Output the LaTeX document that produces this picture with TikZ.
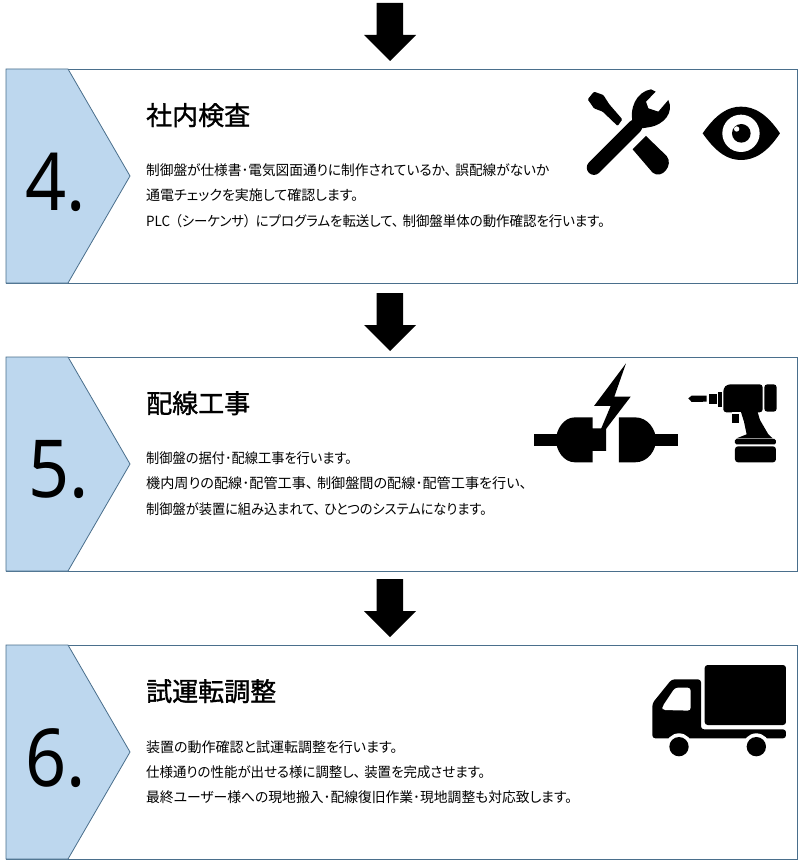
\documentclass[tikz,border=0pt]{standalone}
\usepackage{fontspec}
\usepackage{graphicx}
\setmainfont{Noto Sans}
\newfontfamily\jp[RawFeature=+palt]{Noto Sans CJK JP}
\newfontfamily\jpt[RawFeature=+palt,FakeBold=1.2]{Noto Sans CJK JP}
\definecolor{frameblue}{HTML}{4A6F8C}
\definecolor{panelblue}{HTML}{BDD7EE}
\tikzset{
  framebox/.style={draw=frameblue,fill=white,line width=0.8pt},
  pentabox/.style={draw=frameblue,fill=panelblue,line width=0.8pt},
  blk/.style={fill=black,draw=none},
  wht/.style={fill=white,draw=none},
  numlabel/.style={anchor=base west,inner sep=0pt,font=\fontsize{80}{80}\selectfont,text=black},
  titlelabel/.style={anchor=base west,inner sep=0pt,font=\jpt\fontsize{26}{26}\selectfont,text=black},
  bodylabel/.style={anchor=base west,inner sep=0pt,font=\jp\fontsize{14}{14}\selectfont,text=black},
}
\newcommand{\panelbox}[1]{%
  \path[framebox] (6,#1) rectangle (797,#1+214);
  \path[pentabox] (6,#1) -- (68,#1) -- (130,#1+107) -- (68,#1+214) -- (6,#1+214) -- cycle;
}
\newcommand{\blockarrow}[1]{%
  \path[blk] (376.5,#1) -- (403,#1) -- (403,#1+32) -- (416,#1+32) -- (390,#1+58) -- (364,#1+32) -- (376.5,#1+32) -- cycle;
}
\newcommand{\sq}[2]{\scalebox{#1}[1]{#2}}
\newcommand{\tenn}{、\hspace{4pt}}
\begin{document}
\begin{tikzpicture}[x=1pt,y=-1pt]
\useasboundingbox (0,0) rectangle (809,864);
\fill[white] (0,0) rectangle (809,864);
\blockarrow{3}\blockarrow{293}\blockarrow{579}
\panelbox{69}\panelbox{357}\panelbox{645}
\node[numlabel] (n4) at (25,210) {\sq{0.9}{4.}};
\node[numlabel] (n5) at (28,497) {\sq{0.9}{5.}};
\node[numlabel] (n6) at (25,786) {\sq{0.9}{6.}};
\node[titlelabel] (t4) at (146,125) {社内検査};
\node[titlelabel] (t5) at (146,413) {配線工事};
\node[titlelabel] (t6) at (146,701) {試運転調整};
\node[bodylabel] (b41) at (146,175) {\sq{0.976}{制御盤が仕様書･電気図面通りに制作されているか\tenn 誤配線がないか}};
\node[bodylabel] (b42) at (146,200) {通電チェックを実施して確認します。};
\node[bodylabel] (b43) at (146,226) {\sq{0.96}{PLC\hspace{5pt}（シーケンサ）\hspace{5pt}にプログラムを転送して\tenn 制御盤単体の動作確認を行います。}};
\node[bodylabel] (b51) at (146,463) {\sq{0.944}{制御盤の据付･配線工事を行います。}};
\node[bodylabel] (b52) at (146,488) {\sq{1.01}{機内周りの配線･配管工事\tenn 制御盤間の配線･配管工事を行い、}};
\node[bodylabel] (b53) at (146,514) {\sq{0.944}{制御盤が装置に組み込まれて\tenn ひとつのシステムになります。}};
\node[bodylabel] (b61) at (146,752) {装置の動作確認と試運転調整を行います。};
\node[bodylabel] (b62) at (146,777) {\sq{0.96}{仕様通りの性能が出せる様に調整し\tenn 装置を完成させます。}};
\node[bodylabel] (b63) at (146,802) {\sq{0.985}{最終ユーザー様への現地搬入･配線復旧作業･現地調整も対応致します。}};
% tools + eye
\begin{scope}[shift={(520,70)},x=0.3333pt,y=-0.3333pt]
 \path[blk,rounded corners=1pt] (203,88) -- (222,65) -- (250,75) -- (268,103) -- (307,148) -- (293,168) -- (248,125) -- (222,115) -- cycle;
 \path[blk] (378,198) -- (440,258) .. controls (462,285) and (425,330) .. (398,308) -- (338,238) -- cycle;
 \draw[line width=14.5pt,line cap=round,black] (222,293) -- (345,170);
 \path[blk] (393,58) .. controls (350,65) and (325,115) .. (340,165) -- (345,178) -- (385,172) .. controls (435,165) and (462,125) .. (445,90) -- (415,125) -- (385,115) -- (378,95) -- (407,65) -- cycle;
 \path[blk] (548,190) .. controls (590,130) and (625,110) .. (663,110) .. controls (702,110) and (740,130) .. (780,190) .. controls (740,250) and (702,270) .. (663,270) .. controls (625,270) and (590,250) .. (548,190) -- cycle;
 \path[wht] (663,190) circle[radius=56];
 \path[blk] (664,190) circle[radius=28];
 \path[wht] (650,177) circle[radius=8];
\end{scope}
% plug + drill
\begin{scope}[shift={(520,355)},x=0.3333pt,y=-0.3333pt]
 \path[blk] (42,238) rectangle (115,272);
 \path[blk] (218,187) -- (165,187) .. controls (130,187) and (108,225) .. (108,255) .. controls (108,285) and (130,322) .. (165,322) -- (218,322) -- (218,288) -- (258,288) -- (258,220) -- (218,220) -- cycle;
 \path[blk] (318,25) -- (222,153) -- (272,153) -- (243,222) -- (258,222) -- (332,125) -- (283,125) -- cycle;
 \path[blk] (297,187) -- (345,187) .. controls (385,187) and (408,225) .. (408,255) .. controls (408,285) and (385,322) .. (345,322) -- (297,322) -- cycle;
 \path[blk] (400,238) rectangle (474,272);
 % drill
 \path[blk] (505,130) -- (515,122) -- (560,122) -- (560,140) -- (515,141) -- cycle;
 \path[blk] (568,116) rectangle (590,148);
 \path[blk] (595,112) rectangle (606,155);
 \path[blk,rounded corners=3pt] (610,172) -- (610,100) -- (622,88) -- (728,88) -- (728,172) -- cycle;
 \path[blk] (662,168) -- (712,168) -- (720,195) -- (745,238) -- (758,250) -- (650,250) -- (680,238) -- (672,200) -- cycle;
 \path[blk,rounded corners=3pt] (733,88) -- (770,88) -- (770,170) -- (733,170) -- cycle;
 \path[wht] (637,172) rectangle (662,208);
 \path[blk] (637,178) rectangle (658,203);
 \path[blk,rounded corners=1.5pt] (645,268) -- (645,252) -- (768,252) -- (768,268) -- cycle;
 \path[blk,rounded corners=3pt] (645,274) -- (768,274) -- (768,322) -- (645,322) -- cycle;
\end{scope}
% truck
\begin{scope}[shift={(630,650)},x=0.3333pt,y=-0.3333pt]
 \path[blk,rounded corners=3pt] (224,45) rectangle (468,225);
 \path[blk,rounded corners=3pt] (67,160) -- (125,88) -- (213,88) -- (213,238) -- (468,238) -- (468,265) -- (67,265) -- cycle;
 \path[wht,rounded corners=3pt] (97,180) -- (97,170) -- (135,113) -- (182,113) -- (182,182) -- cycle;
 \path[wht] (147,290) circle[radius=40];
 \path[wht] (379,290) circle[radius=40];
 \path[blk] (147,290) circle[radius=29];
 \path[blk] (379,290) circle[radius=29];
\end{scope}
\end{tikzpicture}
\end{document}
